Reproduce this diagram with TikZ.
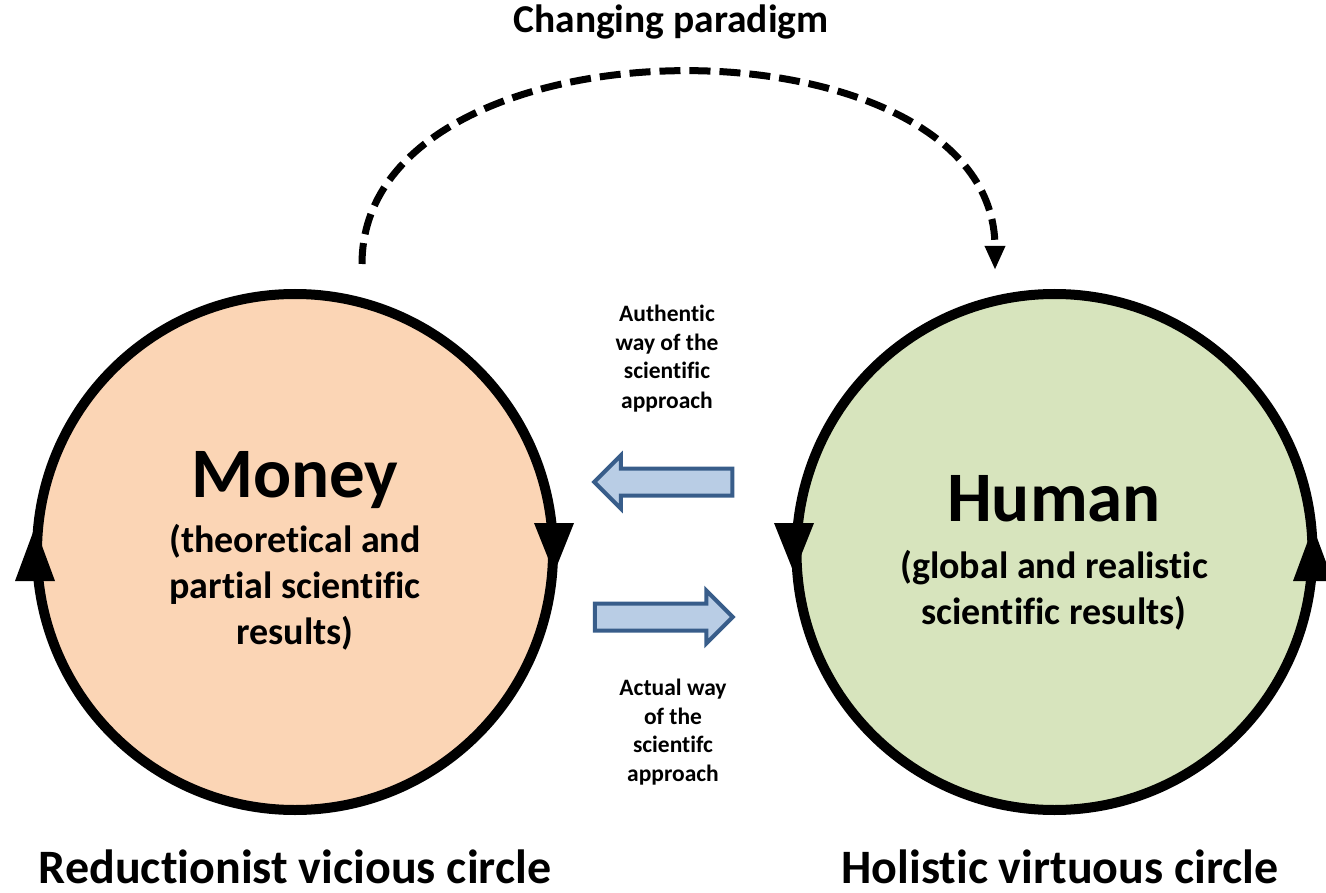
\documentclass[tikz,border=0pt]{standalone}
\usepackage{fontspec}
\setmainfont{Carlito}[Ligatures=NoCommon]
\usetikzlibrary{arrows.meta,shapes.arrows}
\definecolor{peach}{RGB}{251,213,181}
\definecolor{sage}{RGB}{215,228,189}
\definecolor{arrowfill}{RGB}{185,205,229}
\definecolor{arrowline}{RGB}{56,93,138}
\tikzset{
  bigcircle/.style={circle, draw=black, line width=10pt, minimum size=516pt, inner sep=0pt},
  circhead/.style={fill=black},
  blockarrow/.style={single arrow, draw=arrowline, fill=arrowfill, line width=4pt,
     minimum height=138pt, inner xsep=0pt, inner ysep=11.5pt, text height=0pt, text depth=0pt,
     single arrow head extend=13pt, single arrow tip angle=90},
  paradigm/.style={draw=black, line width=7pt, dash pattern=on 21pt off 9pt,
     -{Triangle[width=19pt,length=24pt]}},
  lbl/.style={font=\bfseries, align=center, inner sep=0pt},
}
\begin{document}
\begin{tikzpicture}[x=1pt,y=-1pt]
\useasboundingbox (0,0) rectangle (1326,893);
% circles
\node[bigcircle, fill=peach] (moneyC) at (295,552) {};
\node[bigcircle, fill=sage] (humanC) at (1054.5,552) {};
% arrowheads on circles
\fill[circhead] (15,581) -- (55,581) -- (35,527) -- cycle;
\fill[circhead] (534,523) -- (574,523) -- (554,573) -- cycle;
\fill[circhead] (774,523) -- (814,523) -- (794,573) -- cycle;
\fill[circhead] (1293,581) -- (1333,581) -- (1313,527) -- cycle;
% block arrows
\node[blockarrow, shape border rotate=180] (auth) at (670,482) {};
\node[blockarrow] (actual) at (657,617) {};
% dashed arc
\coordinate (pstart) at (362,264);
\coordinate (pend) at (995,270);
\draw[paradigm] (pstart) .. controls (362,9) and (995,9) .. (pend);
% texts (base anchor = baseline of the last line)
\node[lbl, font=\bfseries\fontsize{39.5}{47}\selectfont, anchor=base] (tparadigm) at (671,33) {Changing paradigm};
\node[lbl, font=\bfseries\fontsize{71}{80}\selectfont, anchor=base] (tmoney) at (295,497) {Money};
\node[lbl, font=\bfseries\fontsize{38}{46}\selectfont, anchor=base] (tmoneysub) at (295,644) {(theoretical and\\partial scientific\\results)};
\node[lbl, font=\bfseries\fontsize{71}{80}\selectfont, anchor=base] (thuman) at (1054,521) {Human};
\node[lbl, font=\bfseries\fontsize{38}{46}\selectfont, anchor=base] (thumansub) at (1054,624) {(global and realistic\\scientific results)};
\node[lbl, font=\bfseries\fontsize{23.5}{29}\selectfont, anchor=base] (tauth) at (667,408) {Authentic\\way of the\\scientific\\approach};
\node[lbl, font=\bfseries\fontsize{23.5}{28.5}\selectfont, anchor=base] (tactual) at (673,781) {Actual way\\of the\\scientifc\\approach};
\node[lbl, font=\bfseries\fontsize{48}{50}\selectfont, anchor=base] (tred) at (295,883) {Reductionist vicious circle};
\node[lbl, font=\bfseries\fontsize{48}{50}\selectfont, anchor=base] (thol) at (1060,883) {Holistic virtuous circle};
\end{tikzpicture}
\end{document}
